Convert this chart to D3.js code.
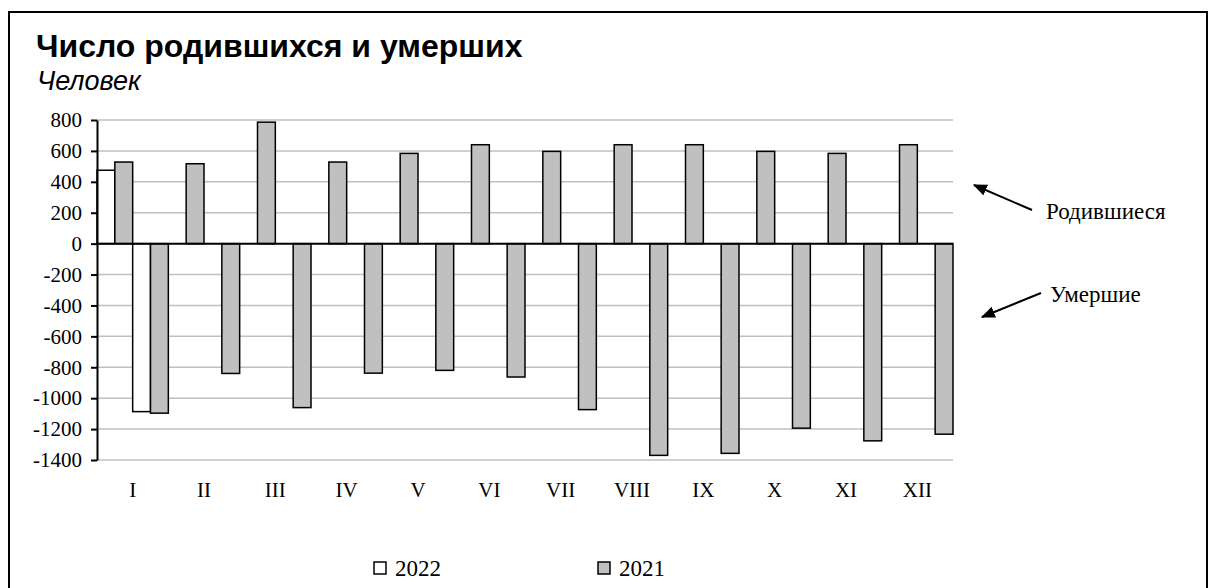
<!DOCTYPE html>
<html>
<head>
<meta charset="utf-8">
<script src="https://cdn.jsdelivr.net/npm/d3@7"></script>
<style>
  body { margin: 0; background: #fff; }
  svg { display: block; }
</style>
</head>
<body>
<svg id="chart"></svg>
<script>
const months = ['I', 'II', 'III', 'IV', 'V', 'VI', 'VII', 'VIII', 'IX', 'X', 'XI', 'XII'];
const births2022 = [475, null, null, null, null, null, null, null, null, null, null, null];
const births2021 = [528, 517, 786, 528, 584, 640, 597, 640, 640, 597, 584, 640];
const deaths2022 = [-1087, null, null, null, null, null, null, null, null, null, null, null];
const deaths2021 = [-1097, -840, -1061, -838, -820, -863, -1074, -1370, -1357, -1194, -1276, -1233];
const yTicks = [800, 600, 400, 200, 0, -200, -400, -600, -800, -1000, -1200, -1400];
const years = ['2022', '2021'];

const width = 1210, height = 588;
const margin = {top: 120, right: 257, bottom: 128, left: 97};
const innerW = width - margin.left - margin.right;
const innerH = height - margin.top - margin.bottom;
const fills = {'2022': '#ffffff', '2021': '#c0c0c0'};
const serif = '"Liberation Serif", "Times New Roman", serif';
const sans = '"Liberation Sans", Arial, sans-serif';

const svg = d3.select('#chart').attr('width', width).attr('height', height);

// outer frame
svg.append('rect')
  .attr('x', 9).attr('y', 12).attr('width', 1198).attr('height', 600)
  .attr('fill', 'none').attr('stroke', '#000').attr('stroke-width', 2);

svg.append('text')
  .attr('x', 36).attr('y', 57)
  .style('font-family', sans).style('font-weight', 'bold').style('font-size', '32px')
  .text('Число родившихся и умерших');

svg.append('text')
  .attr('x', 37).attr('y', 90)
  .style('font-family', sans).style('font-style', 'italic').style('font-size', '27px')
  .text('Человек');

const chart = svg.append('g').attr('transform', `translate(${margin.left},${margin.top})`);

const x = d3.scaleBand().domain(months).range([0, innerW]).padding(0);
const keys = ['b2022', 'b2021', 'd2022', 'd2021'];
const xInner = d3.scaleBand().domain(keys).range([0, x.bandwidth()]).padding(0);
const y = d3.scaleLinear().domain([-1400, 800]).range([innerH, 0]);

// gridlines
chart.append('g').selectAll('line')
  .data(yTicks.filter(d => d !== 0))
  .join('line')
  .attr('x1', 0).attr('x2', innerW)
  .attr('y1', d => y(d)).attr('y2', d => y(d))
  .attr('stroke', '#c0c0c0').attr('stroke-width', 1.5);

const rows = [];
months.forEach((m, i) => {
  rows.push({m, key: 'b2022', year: '2022', v: births2022[i]});
  rows.push({m, key: 'b2021', year: '2021', v: births2021[i]});
  rows.push({m, key: 'd2022', year: '2022', v: deaths2022[i]});
  rows.push({m, key: 'd2021', year: '2021', v: deaths2021[i]});
});

chart.append('g').selectAll('rect')
  .data(rows.filter(d => d.v !== null))
  .join('rect')
  .attr('x', d => x(d.m) + xInner(d.key))
  .attr('width', xInner.bandwidth())
  .attr('y', d => y(Math.max(0, d.v)))
  .attr('height', d => Math.abs(y(d.v) - y(0)))
  .attr('fill', d => fills[d.year])
  .attr('stroke', '#000').attr('stroke-width', 1.5);

// y axis
const yAxis = d3.axisLeft(y).tickValues(yTicks).tickFormat(d => String(d))
  .tickSize(6).tickSizeOuter(0).tickPadding(9);
const yg = chart.append('g').call(yAxis);
yg.select('.domain').attr('stroke', '#000').attr('stroke-width', 2);
yg.selectAll('.tick line').attr('stroke', '#000').attr('stroke-width', 2);
yg.selectAll('.tick text')
  .style('font-family', serif).style('font-size', '21px').attr('fill', '#000');

// zero line
chart.append('line')
  .attr('x1', 0).attr('x2', innerW)
  .attr('y1', y(0)).attr('y2', y(0))
  .attr('stroke', '#000').attr('stroke-width', 2);

// month labels
const xAxis = d3.axisBottom(x).tickSize(0).tickPadding(22);
const xg = chart.append('g').attr('transform', `translate(0,${innerH})`).call(xAxis);
xg.select('.domain').remove();
xg.selectAll('.tick text')
  .style('font-family', serif).style('font-size', '21px').attr('fill', '#000');

// annotations
svg.append('defs').append('marker')
  .attr('id', 'head').attr('viewBox', '0 0 12 10')
  .attr('refX', 11).attr('refY', 5)
  .attr('markerWidth', 7).attr('markerHeight', 6)
  .attr('orient', 'auto')
  .append('path').attr('d', 'M0,0 L12,5 L0,10 Z').attr('fill', '#000');

svg.append('line')
  .attr('x1', 1032).attr('y1', 210).attr('x2', 974).attr('y2', 185)
  .attr('stroke', '#000').attr('stroke-width', 2).attr('marker-end', 'url(#head)');
svg.append('text')
  .attr('x', 1046).attr('y', 219)
  .style('font-family', serif).style('font-size', '23px')
  .text('Родившиеся');

svg.append('line')
  .attr('x1', 1041).attr('y1', 293).attr('x2', 982).attr('y2', 317)
  .attr('stroke', '#000').attr('stroke-width', 2).attr('marker-end', 'url(#head)');
svg.append('text')
  .attr('x', 1050).attr('y', 302)
  .style('font-family', serif).style('font-size', '23px')
  .text('Умершие');

// legend
const legend = svg.append('g').selectAll('g')
  .data(years)
  .join('g')
  .attr('transform', (d, i) => `translate(${374 + i * 224},562)`);
legend.append('rect')
  .attr('width', 12).attr('height', 12)
  .attr('fill', d => fills[d]).attr('stroke', '#000').attr('stroke-width', 1.5);
legend.append('text')
  .attr('x', 21).attr('y', 14)
  .style('font-family', serif).style('font-size', '23px')
  .text(d => d);
</script>
</body>
</html>
